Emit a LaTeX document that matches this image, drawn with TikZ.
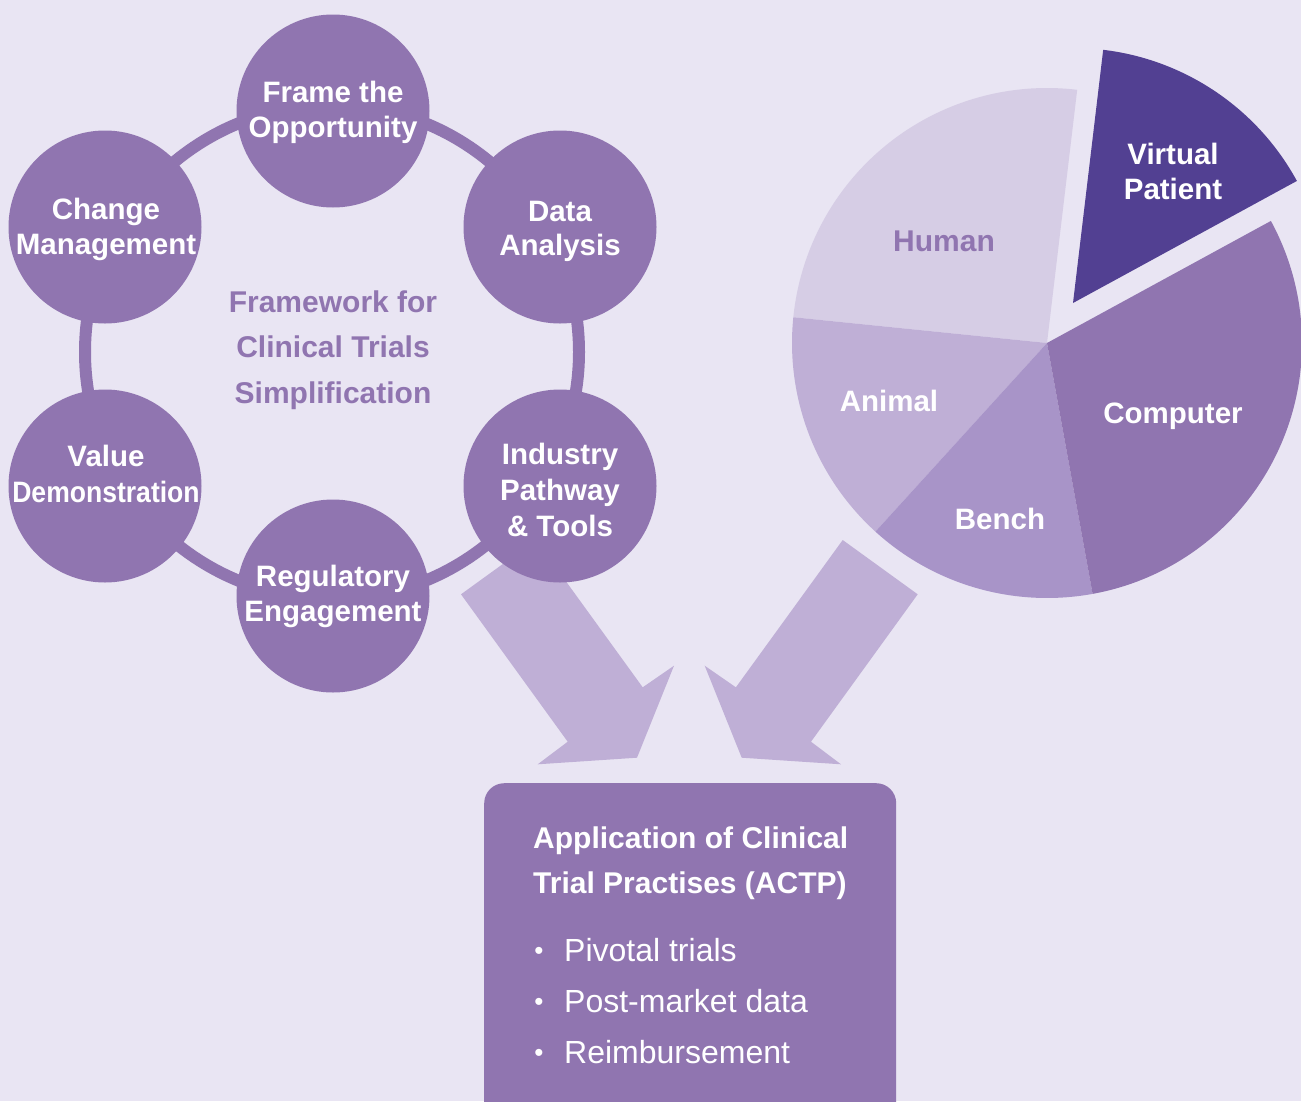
\documentclass[tikz,border=0pt]{standalone}
\usepackage{fontspec}
\setmainfont{Liberation Sans}
\definecolor{bgc}{HTML}{E9E5F3}
\definecolor{purp}{HTML}{9075B0}
\definecolor{humanc}{HTML}{D6CDE5}
\definecolor{animalc}{HTML}{BFAFD6}
\definecolor{benchc}{HTML}{A894C8}
\definecolor{virtc}{HTML}{524092}
\begin{document}
\begin{tikzpicture}[x=1pt,y=-1pt,
  stage/.style={circle, fill=purp, minimum size=193pt, inner sep=0pt},
  wlbl/.style={font=\bfseries\fontsize{29.5}{36}\selectfont, text=white, anchor=base, inner sep=0pt},
  plbl/.style={font=\bfseries\fontsize{30}{36}\selectfont, text=purp, anchor=base, inner sep=0pt},
  btitle/.style={font=\bfseries\fontsize{30}{36}\selectfont, text=white, anchor=base west, inner sep=0pt},
  bitem/.style={font=\fontsize{32}{36}\selectfont, text=white, anchor=base west, inner sep=0pt},
  bdot/.style={font=\fontsize{26}{30}\selectfont, text=white, anchor=base, inner sep=0pt},
  bigarrow/.style={fill=animalc}
]
\useasboundingbox (0,0) rectangle (1301,1101);
\clip (0,0) rectangle (1301,1101);
\fill[bgc] (0,0) rectangle (1301,1101);

% ---- arrows (behind circles) ----
\fill[bigarrow] (461,594.3) -- (536,540) -- (642.7,687.3) -- (674,665.7) -- (637,757.7) -- (537.7,764.3) -- (567.7,741.7) -- cycle;
\fill[bigarrow] (917.7,594.3) -- (842.7,540) -- (735.9,687.3) -- (704.7,665.7) -- (741.7,757.7) -- (841,764.3) -- (811,741.7) -- cycle;

% ---- ring and stages ----
\node[circle, draw=purp, line width=12pt, minimum size=494pt, inner sep=0pt] (ring) at (332,352) {};
\node[stage] (frame) at (333,111) {};
\node[stage] (data) at (560,227) {};
\node[stage] (industry) at (560,486) {};
\node[stage] (regul) at (333,596) {};
\node[stage] (value) at (105,486) {};
\node[stage] (change) at (105,227) {};

\node[wlbl] (t1a) at (333,102) {Frame the};
\node[wlbl] (t1b) at (333,137) {Opportunity};
\node[wlbl] (t2a) at (560,221) {Data};
\node[wlbl] (t2b) at (560,255) {Analysis};
\node[wlbl] (t3a) at (560,464) {Industry};
\node[wlbl] (t3b) at (560,500) {Pathway};
\node[wlbl] (t3c) at (560,536) {\& Tools};
\node[wlbl] (t4a) at (333,586) {Regulatory};
\node[wlbl] (t4b) at (333,621) {Engagement};
\node[wlbl] (t5a) at (106,466) {Value};
\node[wlbl] (t5b) at (106,502) {\scalebox{0.9}[1]{Demonstration}};
\node[wlbl] (t6a) at (106,219) {Change};
\node[wlbl] (t6b) at (106,254) {Management};

\node[plbl] (fw1) at (333,312) {Framework for};
\node[plbl] (fw2) at (333,357) {Clinical Trials};
\node[plbl] (fw3) at (333,403) {Simplification};

% ---- pie ----
\begin{scope}[shift={(1047,343)}]
  \fill[humanc] (0,0) -- (83.2:255pt) arc[start angle=83.2, end angle=174.2, radius=255pt] -- cycle;
  \fill[animalc] (0,0) -- (174.2:255pt) arc[start angle=174.2, end angle=227.7, radius=255pt] -- cycle;
  \fill[benchc] (0,0) -- (227.7:255pt) arc[start angle=227.7, end angle=280.3, radius=255pt] -- cycle;
  \fill[purp] (0,0) -- (280.3:255pt) arc[start angle=280.3, end angle=388.6, radius=255pt] -- cycle;
\end{scope}
\begin{scope}[shift={(1073,303)}]
  \fill[virtc] (0,0) -- (28.6:255pt) arc[start angle=28.6, end angle=83.2, radius=255pt] -- cycle;
\end{scope}

\node[plbl] (human) at (944,251) {Human};
\node[wlbl] (virt1) at (1173,164) {Virtual};
\node[wlbl] (virt2) at (1173,199) {Patient};
\node[wlbl] (animal) at (889,411) {Animal};
\node[wlbl] (computer) at (1173,423) {Computer};
\node[wlbl] (bench) at (1000,529) {Bench};

% ---- ACTP box ----
\node[fill=purp, rounded corners=20pt, minimum width=412pt, minimum height=360pt, anchor=north west, inner sep=0pt] (actp) at (484,783) {};
\node[btitle] (bt1) at (533,848) {Application of Clinical};
\node[btitle] (bt2) at (533,893) {Trial Practises (ACTP)};
\node[bdot] (d1) at (539,959.5) {•};
\node[bdot] (d2) at (539,1010.5) {•};
\node[bdot] (d3) at (539,1061.5) {•};
\node[bitem] (i1) at (564,961) {Pivotal trials};
\node[bitem] (i2) at (564,1012) {Post-market data};
\node[bitem] (i3) at (564,1063) {Reimbursement};
\end{tikzpicture}
\end{document}
